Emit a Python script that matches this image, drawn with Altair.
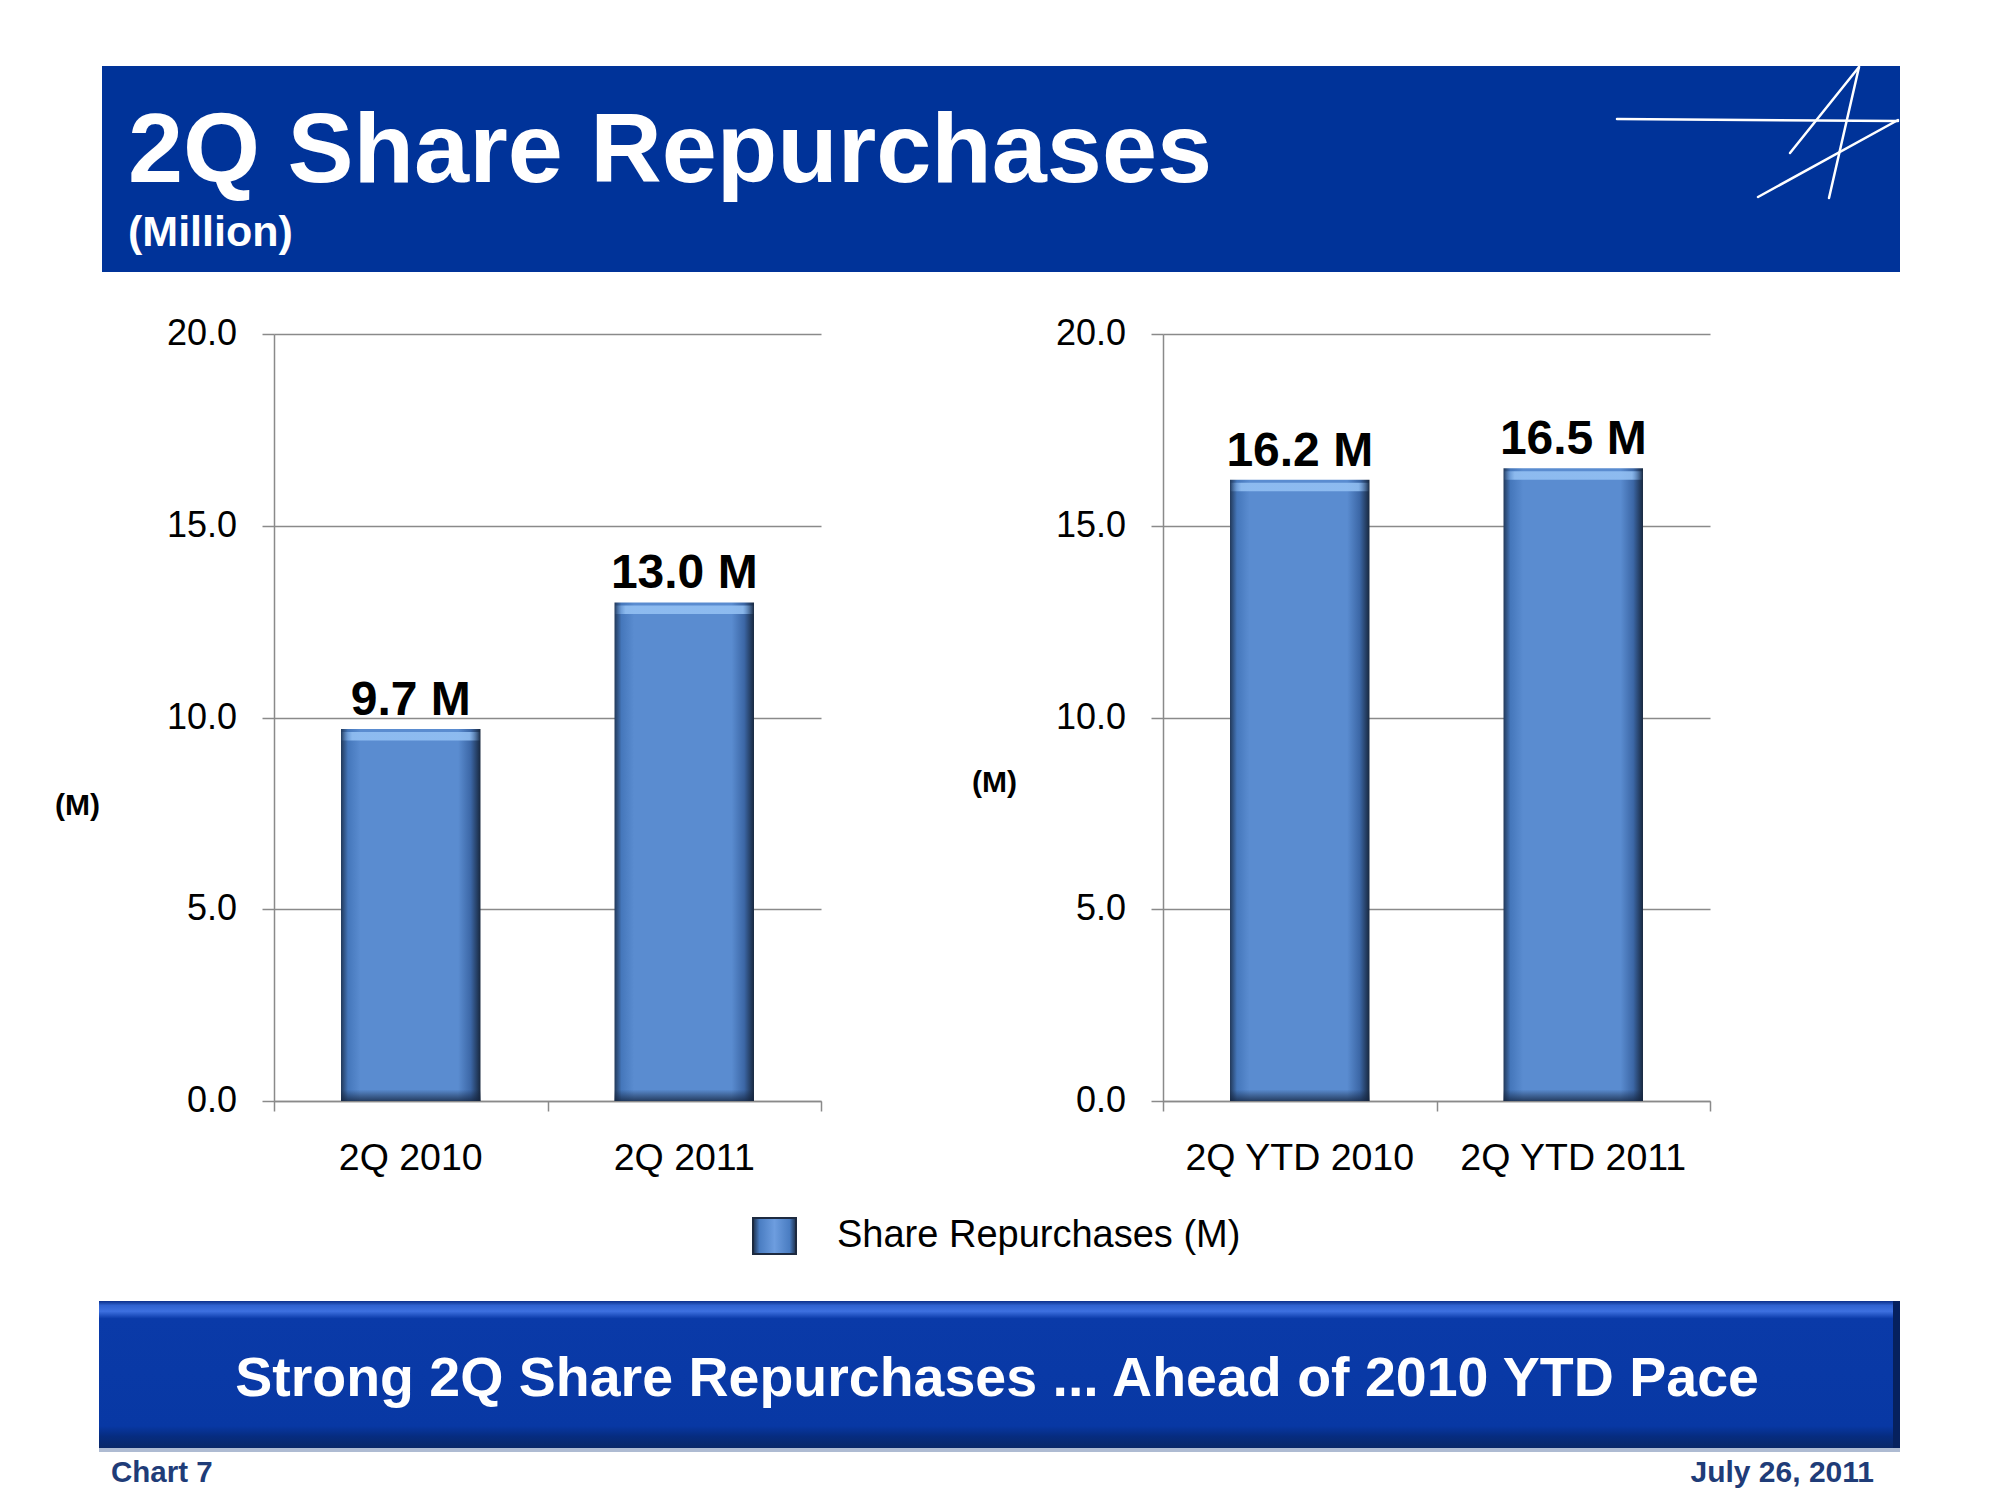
import altair as alt
import pandas as pd

# ---------------- data ----------------
left_cats = ["2Q 2010", "2Q 2011"]
left_vals = [9.7, 13.0]
right_cats = ["2Q YTD 2010", "2Q YTD 2011"]
right_vals = [16.2, 16.5]
y_ticks = [0, 5, 10, 15, 20]
y_tick_labels = ["0.0", "5.0", "10.0", "15.0", "20.0"]
series_name = "Share Repurchases (M)"
title_text = "2Q Share Repurchases"
subtitle_text = "(Million)"
footer_text = "Strong 2Q Share Repurchases ... Ahead of 2010 YTD Pace"
chart_no = "Chart 7"
date_text = "July 26, 2011"

# ---------------- layout / style ----------------
FONT = "Liberation Sans, Arial, sans-serif"
GRID = "#8a8a8a"
W, H = 547, 767
OX, OY = 274, 334          # page position of the left plot origin
SPACING = 1163 - OX - W    # gap between the two plot areas
BAR_FRAC = 0.51            # bar width as a fraction of the category band


def px(x):
    return x - OX


def py(y):
    return y - OY


dummy = pd.DataFrame({"d": [0]})


def rect(x1, y1, x2, y2, fill, **kw):
    return alt.Chart(dummy).mark_rect(color=fill, **kw).encode(
        x=alt.value(px(x1)), x2=alt.value(px(x2)),
        y=alt.value(py(y1)), y2=alt.value(py(y2)))


def rule(x1, y1, x2, y2, color="white", width=2.5):
    return alt.Chart(dummy).mark_rule(color=color, strokeWidth=width, strokeCap="round").encode(
        x=alt.value(px(x1)), x2=alt.value(px(x2)),
        y=alt.value(py(y1)), y2=alt.value(py(y2)))


def text(x, y, s, size, color="black", weight="normal", align="left", baseline="alphabetic"):
    return alt.Chart(dummy).mark_text(
        text=s, font=FONT, fontSize=size, fontWeight=weight,
        color=color, align=align, baseline=baseline).encode(
        x=alt.value(px(x)), y=alt.value(py(y)))


def grad_h(stops):
    return alt.Gradient(gradient="linear", x1=0, x2=1, y1=0, y2=0,
                        stops=[alt.GradientStop(color=c, offset=o) for o, c in stops])


def grad_v(stops):
    return alt.Gradient(gradient="linear", x1=0, x2=0, y1=0, y2=1,
                        stops=[alt.GradientStop(color=c, offset=o) for o, c in stops])


BAR_GRAD = grad_h([(0, "#22395a"), (0.05, "#4577bb"), (0.14, "#5a8cd0"),
                   (0.84, "#5a8cd0"), (0.93, "#3c67a6"), (1, "#18283f")])
HILITE = grad_h([(0, "rgba(150,195,245,0)"), (0.08, "rgba(150,195,245,0.85)"),
                 (0.92, "rgba(150,195,245,0.85)"), (1, "rgba(150,195,245,0)")])
BOTTOM = grad_v([(0, "rgba(20,35,60,0)"), (1, "rgba(20,35,60,0.75)")])

# ---------------- decorations (page coordinates) ----------------
frame = rect(8, 8, 1992, 1492, "white", opacity=0)   # fixes the page extent, invisible
header = rect(102, 66, 1900, 272, "#003399")
title = text(128, 182, title_text, 99, "white", "bold")
subtitle = text(128, 246, subtitle_text, 43, "white", "bold")
logo = [
    rule(1617, 119, 1898, 121),
    rule(1859, 67, 1790, 153),
    rule(1859, 67, 1829, 198),
    rule(1898, 120, 1758, 197),
]
footer_band = rect(99, 1301, 1900, 1448, grad_v([
    (0, "#0b2f8a"), (0.03, "#2f62d0"), (0.07, "#3d70e0"), (0.12, "#0a3aa8"),
    (0.85, "#0838a4"), (0.92, "#062c80"), (1, "#0a2868")]))
footer_shadow = rect(1893, 1301, 1900, 1448, "#06215e")
footer_line = rect(99, 1448, 1900, 1452, "#aebbd2")
footer = text(997, 1379, footer_text, 55.5, "white", "bold", align="center", baseline="middle")
chart7 = text(111, 1473, chart_no, 29.5, "#1f3c78", "bold", baseline="middle")
date = text(1874, 1473, date_text, 30, "#1f3c78", "bold", align="right", baseline="middle")
legend_sw = rect(753, 1218, 796, 1254, grad_h([(0, "#1d2f4a"), (0.15, "#4a7dc2"), (0.5, "#6d9ddf"),
                                                (0.85, "#4a7dc2"), (1, "#1d2f4a")]),
                 stroke="#1d2a40", strokeWidth=2)
legend_tx = text(837, 1236, series_name, 38, "black", "normal", baseline="middle")

decor = [frame, header, title, subtitle] + logo + [footer_band, footer_shadow, footer_line,
                                                  footer, chart7, date, legend_sw, legend_tx]

# ---------------- panels ----------------
ticks_df = pd.DataFrame({"v": y_ticks, "lab": y_tick_labels})


def panel(cats, vals, title_x, title_y, extra=None):
    df = pd.DataFrame({"cat": cats, "v": vals,
                       "lab": [f"{v:.1f} M" for v in vals]})
    base = alt.Chart(df)
    x_scale = alt.Scale(paddingInner=0, paddingOuter=0)
    y_scale = alt.Scale(domain=[0, 20], nice=False)
    x_axis = alt.Axis(labels=False, title=None, tickBand="extent", tickSize=10,
                      tickColor=GRID, tickWidth=1.5, domainColor=GRID,
                      domainWidth=1.5, grid=False)
    y_axis = alt.Axis(values=y_ticks, labels=False, tickSize=12, tickColor=GRID,
                      tickWidth=1.5, grid=True, gridColor=GRID, gridWidth=1.5,
                      domainColor=GRID, domainWidth=1.5,
                      title="(M)", titleAngle=0, titleX=title_x, titleY=title_y,
                      titleAlign="center", titleBaseline="middle",
                      titleFont=FONT, titleFontSize=30, titleFontWeight="bold",
                      titleColor="black")

    def X():
        return alt.X("cat:N", sort=cats, scale=x_scale, axis=x_axis)

    def Y(field):
        return alt.Y(field, scale=y_scale, axis=y_axis)

    bw = alt.RelativeBandSize(BAR_FRAC)
    bars = base.mark_bar(color=BAR_GRAD, width=bw).encode(x=X(), y=Y("v:Q"))
    hil = base.transform_calculate(t="datum.v - 0.08", b="datum.v - 0.3").mark_bar(
        color=HILITE, width=bw).encode(x=X(), y=Y("t:Q"), y2="b:Q")
    bot = base.transform_calculate(t="0.3", b="0").mark_bar(
        color=BOTTOM, width=bw).encode(x=X(), y=Y("t:Q"), y2="b:Q")
    vlab = base.mark_text(font=FONT, fontSize=48, fontWeight="bold",
                          baseline="alphabetic", dy=-14, color="black").encode(
        x=X(), y=Y("v:Q"), text="lab:N")
    xlab = base.mark_text(font=FONT, fontSize=37.5, baseline="middle",
                          color="black").encode(x=X(), y=alt.value(1159 - OY), text="cat:N")
    ylab = alt.Chart(ticks_df).mark_text(font=FONT, fontSize=36,
                                         align="right", baseline="middle", color="black").encode(
        x=alt.value(237 - OX), y=Y("v:Q"), text="lab:N")
    layers = (extra or []) + [bars, hil, bot, vlab, xlab, ylab]
    return alt.layer(*layers).properties(width=W, height=H)


left = panel(left_cats, left_vals, 77 - OX, 805 - OY, decor)
right = panel(right_cats, right_vals, 994 - 1163, 782 - OY)

chart = alt.hconcat(left, right, spacing=SPACING, bounds="flush").properties(
    padding=0
).configure_view(stroke=None)

chart.save("out.html", embed_options={"renderer": "svg", "actions": False})
